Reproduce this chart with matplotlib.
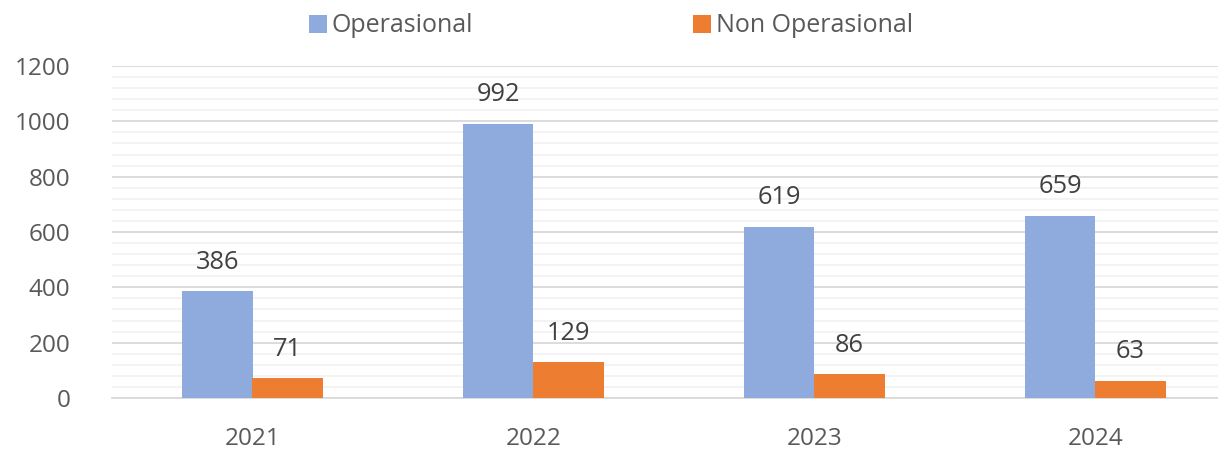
import numpy as np
import matplotlib
matplotlib.use("Agg")
import matplotlib.pyplot as plt
from matplotlib.ticker import MultipleLocator

plt.rcParams["font.family"] = ["Open Sans", "DejaVu Sans"]

# --- data ---
years = ["2021", "2022", "2023", "2024"]
operasional = [386, 992, 619, 659]
non_operasional = [71, 129, 86, 63]

BLUE = "#8FAADC"
ORANGE = "#ED7D31"
TXT = "#595959"

fig = plt.figure(figsize=(12.18, 4.51), dpi=100)
# plot area runs a bit past the right edge, as in the source image
ax = fig.add_axes([112 / 1218, 1 - 398 / 451, 1124 / 1218, 332 / 451])

x = np.arange(len(years))
w = 0.25
b1 = ax.bar(x - w / 2, operasional, width=w, color=BLUE, label="Operasional", zorder=3)
b2 = ax.bar(x + w / 2, non_operasional, width=w, color=ORANGE, label="Non Operasional", zorder=3)

for bars, vals in [(b1, operasional), (b2, non_operasional)]:
    for rect, v in zip(bars, vals):
        ax.annotate(str(v), (rect.get_x() + rect.get_width() / 2, v),
                    xytext=(0, 12), textcoords="offset points",
                    ha="center", va="bottom", fontsize=18.3, color="#404040")

ax.set_xlim(-0.5, 3.5)
ax.set_ylim(0, 1200)
ax.yaxis.set_major_locator(MultipleLocator(200))
ax.yaxis.set_minor_locator(MultipleLocator(40))
ax.grid(which="major", axis="y", color="#D9D9D9", lw=1.3, zorder=1)
ax.grid(which="minor", axis="y", color="#F2F2F2", lw=1.3, zorder=0)
ax.set_axisbelow(True)

ax.set_xticks(x)
ax.set_xticklabels(years)
ax.tick_params(axis="both", which="both", length=0, labelsize=17.5, colors=TXT)
ax.tick_params(axis="x", pad=21)
ax.tick_params(axis="y", pad=30)

for s in ["top", "right", "left"]:
    ax.spines[s].set_visible(False)
ax.spines["bottom"].set_color("#D9D9D9")
ax.spines["bottom"].set_linewidth(1.3)

leg = fig.legend(loc="center", bbox_to_anchor=(611 / 1218, 1 - 26 / 451), ncol=2,
                 frameon=False, fontsize=18, handlelength=0.7, handleheight=0.7,
                 handletextpad=0.2, columnspacing=8.8)
for t in leg.get_texts():
    t.set_color(TXT)

fig.savefig("out.png", dpi=100)
